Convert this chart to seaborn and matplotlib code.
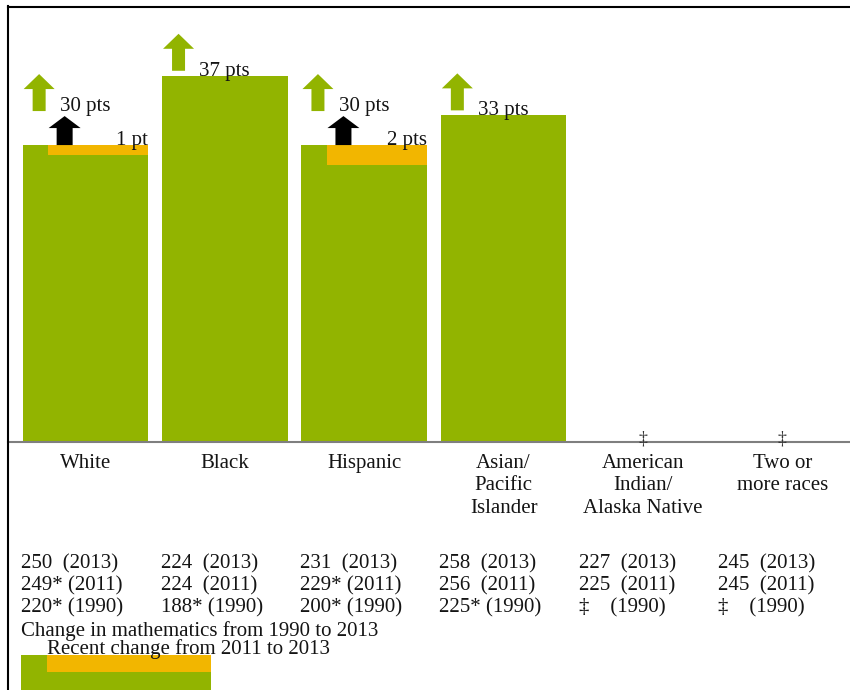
import numpy as np
import pandas as pd
import matplotlib
matplotlib.use("Agg")
import matplotlib.pyplot as plt
import matplotlib.transforms as mtransforms
from matplotlib.patches import Polygon, Rectangle
from matplotlib.lines import Line2D
import seaborn as sns

# ---------------- data ----------------
categories = ["White", "Black", "Hispanic", "Asian/\nPacific\nIslander",
              "American\nIndian/\nAlaska Native", "Two or\nmore races"]
change_1990_2013 = [30, 37, 30, 33, np.nan, np.nan]
recent_change = [1, 0, 2, 2, 2, 0]
recent_significant = [True, False, True, False, False, False]
scores_2013 = [250, 224, 231, 258, 227, 245]
scores_2011 = [249, 224, 229, 256, 225, 245]
sig_2011 = [True, False, True, False, False, False]
scores_1990 = [220, 188, 200, 225, None, None]
sig_1990 = [True, True, True, True, False, False]
legend_total = "Change in mathematics from 1990 to 2013"
legend_recent = "Recent change from 2011 to 2013"

GREEN = "#92B400"
ORANGE = "#F2B600"
TEXT = "#141414"
FS = 15

W, H = 850, 690
plt.rcParams["font.family"] = ["Liberation Serif", "DejaVu Serif"]
fig = plt.figure(figsize=(W / 100, H / 100), dpi=100)
fig.patch.set_facecolor("white")

BASE_PX = 442.0
TOP_PX = 6.5
LEFT_PX = 8.0
ax = fig.add_axes([LEFT_PX / W, (H - BASE_PX) / H, (W - LEFT_PX) / W, (BASE_PX - TOP_PX) / H])

df = pd.DataFrame({"group": categories, "change": change_1990_2013})
sns.barplot(data=df, x="group", y="change", order=categories, color=GREEN,
            saturation=1, width=0.9, linewidth=0, ax=ax, errorbar=None)

ax.set_xlim(-0.555, 5.485)
ax.set_ylim(0, 44.0)
ax.set_xlabel("")
ax.set_ylabel("")
ax.set_yticks([])
ax.set_xticks(range(len(categories)))
ax.set_xticklabels(categories, fontsize=FS, color=TEXT, linespacing=1.26)
ax.tick_params(axis="x", length=0, pad=8.5)
ax.set_facecolor("white")
for s in ["left", "right"]:
    ax.spines[s].set_visible(False)
ax.spines["top"].set_color("black")
ax.spines["top"].set_linewidth(1.5)
ax.spines["bottom"].set_color("#7f7f7f")
ax.spines["bottom"].set_linewidth(1.5)

# left frame line across whole figure
fig.add_artist(Line2D([LEFT_PX / W, LEFT_PX / W], [0, (H - TOP_PX + 0.7) / H],
                      color="black", lw=1.5, transform=fig.transFigure))

half = 0.45


def arrow(x, y, dx, dy, width, height, head, shaft, color):
    trans = mtransforms.Affine2D().translate(dx, dy) + \
        mtransforms.ScaledTranslation(x, y, ax.transData)
    hw, sw, hb = width / 2, shaft / 2, height - head
    verts = [(-sw, 0), (sw, 0), (sw, hb), (hw, hb), (0, height), (-hw, hb), (-sw, hb)]
    p = Polygon(verts, closed=True, facecolor=color, edgecolor="none",
                transform=trans, clip_on=False)
    ax.add_patch(p)


for i, (tot, rc, rs) in enumerate(zip(change_1990_2013, recent_change, recent_significant)):
    if np.isnan(tot):
        ax.annotate("\u2021", xy=(i, 0), xytext=(0, 3), textcoords="offset pixels",
                    ha="center", va="center", fontsize=13, color="#333333",
                    annotation_clip=False)
        continue
    lift = 34 if rs else 0
    if rs:
        ax.bar(i + 0.09, rc, bottom=tot - rc, width=0.72, color=ORANGE, linewidth=0)
        arrow(i - half, tot, 42, 0, 32, 29, 12, 16, "black")
        ax.annotate(f"{rc} pt" if rc == 1 else f"{rc} pts", xy=(i + half, tot),
                    xytext=(0, 0), textcoords="offset pixels", ha="right",
                    va="baseline", fontsize=FS, color=TEXT)
    arrow(i - half, tot, 16.5, lift + (0 if rs else 5), 31, 37, 15, 13, GREEN)
    ax.annotate(f"{int(tot)} pts", xy=(i, tot), xytext=(0, lift), textcoords="offset pixels",
                ha="center", va="baseline", fontsize=FS, color=TEXT)

# score table below
blend = mtransforms.blended_transform_factory(ax.transData, fig.transFigure)
row_base = [568, 590, 612]
for i in range(len(categories)):
    x = i - half - 0.01
    lines = [f"{scores_2013[i]}  (2013)",
             f"{scores_2011[i]}{'* ' if sig_2011[i] else '  '}(2011)",
             (f"{scores_1990[i]}{'* ' if sig_1990[i] else '  '}(1990)"
              if scores_1990[i] is not None else "\u2021    (1990)")]
    for txt, b in zip(lines, row_base):
        fig.text(x, (H - b) / H, txt, transform=blend, ha="left", va="baseline",
                 fontsize=FS, color=TEXT)

# legend
fig.text(21 / W, (H - 636) / H, legend_total, ha="left", va="baseline", fontsize=FS, color=TEXT)
fig.add_artist(Rectangle((21 / W, 0), 190 / W, 35 / H, transform=fig.transFigure,
                         facecolor=GREEN, edgecolor="none"))
fig.add_artist(Rectangle((47 / W, 18 / H), 164 / W, 17 / H, transform=fig.transFigure,
                         facecolor=ORANGE, edgecolor="none"))
fig.text(47 / W, (H - 654) / H, legend_recent, ha="left", va="baseline", fontsize=FS,
         color=TEXT, zorder=5)

fig.savefig("out.png", dpi=100)
